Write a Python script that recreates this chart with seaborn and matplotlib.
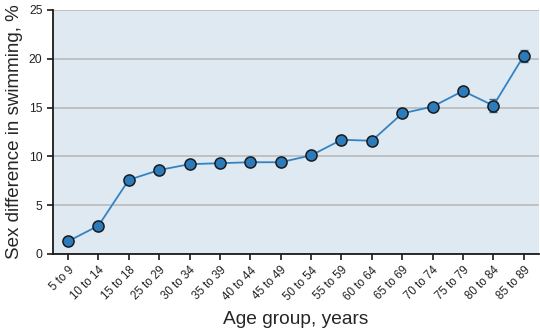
import matplotlib
matplotlib.use("Agg")
import matplotlib.pyplot as plt
import seaborn as sns
import pandas as pd

age_groups = ["5 to 9", "10 to 14", "15 to 18", "25 to 29", "30 to 34", "35 to 39",
              "40 to 44", "45 to 49", "50 to 54", "55 to 59", "60 to 64", "65 to 69",
              "70 to 74", "75 to 79", "80 to 84", "85 to 89"]
sex_diff = [1.3, 2.9, 7.6, 8.6, 9.2, 9.3, 9.4, 9.4, 10.1, 11.7, 11.6, 14.4,
            15.1, 16.7, 15.2, 20.3]
sex_diff_se = [0.1, 0.1, 0.1, 0.1, 0.1, 0.1, 0.1, 0.1, 0.1, 0.1, 0.15, 0.2,
               0.2, 0.25, 0.7, 0.6]
y_ticks = [0, 5, 10, 15, 20, 25]

sns.set_style("white")
plt.rcParams["font.family"] = ["Liberation Sans", "DejaVu Sans"]

df = pd.DataFrame({"idx": range(len(age_groups)), "group": age_groups,
                   "diff": sex_diff, "se": sex_diff_se})

fig = plt.figure(figsize=(5.4, 3.32), dpi=100)
ax = fig.add_axes([0.098, 0.235, 0.900, 0.735])
ax.set_facecolor("#dfe9f1")

line_col = "#3383c4"
ax.errorbar(df["idx"], df["diff"], yerr=df["se"], fmt="none",
            ecolor="#3a6f9a", elinewidth=1.0, capsize=3, capthick=1.0, zorder=2)
sns.lineplot(data=df, x="idx", y="diff", ax=ax, color=line_col, linewidth=1.3,
             marker="o", markersize=8, markerfacecolor="#2c7bbb",
             markeredgecolor="#1a1a1a", markeredgewidth=1.1, zorder=3)

ax.set_xlim(-0.5, len(age_groups) - 0.5)
ax.set_ylim(0, 25)
ax.set_yticks(y_ticks)
ax.yaxis.grid(True, color="#bdbdbd", linewidth=1.3)
ax.set_axisbelow(True)
ax.set_xticks(df["idx"])
ax.set_xticklabels(age_groups, rotation=45, ha="right", rotation_mode="anchor",
                   fontsize=8.3)
ax.tick_params(axis="y", labelsize=8.7)
ax.tick_params(axis="both", direction="out", length=4, width=1.2, color="#1a1a1a",
               bottom=True, left=True, labelcolor="#222222")

for side in ["top", "right"]:
    ax.spines[side].set_visible(False)
for side in ["left", "bottom"]:
    ax.spines[side].set_color("#1a1a1a")
    ax.spines[side].set_linewidth(1.3)

ax.set_xlabel("Age group, years", fontsize=13.8, labelpad=6)
ax.set_ylabel("Sex difference in swimming, %", fontsize=13.5, labelpad=4)

fig.savefig("out.png", dpi=100)
